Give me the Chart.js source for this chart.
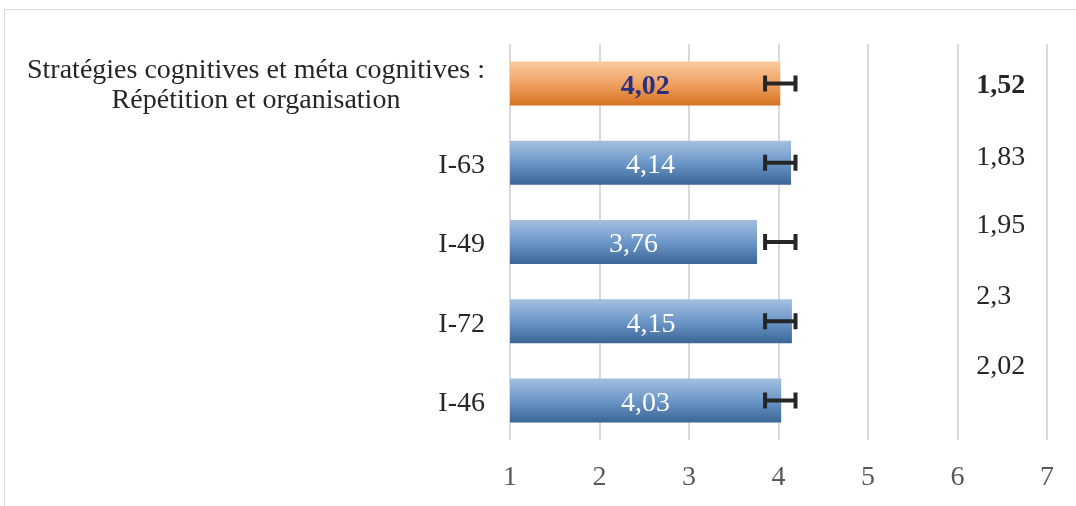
<!DOCTYPE html>
<html>
<head>
<meta charset="utf-8">
<script src="https://cdn.jsdelivr.net/npm/chart.js@4"></script>
<style>
  html, body { margin: 0; padding: 0; background: #fff; }
  #wrap { width: 1076px; height: 506px; position: relative; }
</style>
</head>
<body>
<div id="wrap"><canvas id="chart"></canvas></div>
<script>
// categories from top to bottom
const categories = [
  ["Stratégies cognitives et méta cognitives :", "Répétition et organisation"],
  "I-63", "I-49", "I-72", "I-46"
];
const means = [4.02, 4.14, 3.76, 4.15, 4.03];
const errLow = [3.85, 3.85, 3.85, 3.85, 3.85];
const errHigh = [4.19, 4.19, 4.19, 4.19, 4.19];
const sdValues = [1.52, 1.83, 1.95, 2.3, 2.02];
const xTicks = [1, 2, 3, 4, 5, 6, 7];

const serif = '"Liberation Serif", "Times New Roman", serif';
const fmt = v => String(v).replace('.', ',');
const barPct = 0.555;
const textShift = 3; // times glyphs sit a bit low in the original

function barGradient(ctx) {
  const chart = ctx.chart;
  const y = chart.scales.y;
  const fallback = ctx.dataIndex === 0 ? '#f0a263' : '#6c97c9';
  if (!y || ctx.dataIndex === undefined) return fallback;
  const cy = y.getPixelForValue(ctx.dataIndex);
  const half = (y.height / categories.length) * barPct / 2;
  if (!isFinite(cy) || !isFinite(half) || half <= 0) return fallback;
  const g = chart.ctx.createLinearGradient(0, cy - half, 0, cy + half);
  if (ctx.dataIndex === 0) {
    g.addColorStop(0, '#f8ca9f');
    g.addColorStop(0.5, '#f0a263');
    g.addColorStop(1, '#d5711f');
  } else {
    g.addColorStop(0, '#a5c0df');
    g.addColorStop(0.5, '#6c97c9');
    g.addColorStop(1, '#3a6695');
  }
  return g;
}

const extras = {
  id: 'extras',
  beforeDraw(chart) {
    const c = chart.ctx;
    c.save();
    c.strokeStyle = '#d9d9d9';
    c.lineWidth = 1;
    c.strokeRect(4.5, 9.5, 1200, 700);
    c.restore();
  },
  afterDatasetsDraw(chart) {
    const c = chart.ctx;
    const x = chart.scales.x, y = chart.scales.y;
    c.save();
    // y labels
    c.fillStyle = '#262626';
    c.font = '28px ' + serif;
    c.textBaseline = 'middle';
    const rightX = 485;
    categories.forEach((lab, i) => {
      const cy = y.getPixelForValue(i) + textShift;
      if (Array.isArray(lab)) {
        const w = Math.max(...lab.map(l => c.measureText(l).width));
        c.textAlign = 'center';
        const lh = 30;
        lab.forEach((l, k) => {
          c.fillText(l, rightX - w / 2, cy - 1 + (k - (lab.length - 1) / 2) * lh);
        });
      } else {
        c.textAlign = 'right';
        c.fillText(lab, rightX, cy);
      }
    });
    // value labels inside bars
    c.textAlign = 'center';
    means.forEach((v, i) => {
      const cy = y.getPixelForValue(i) + textShift;
      const cx = (x.getPixelForValue(1) + x.getPixelForValue(v)) / 2;
      if (i === 0) {
        c.font = 'bold 28px ' + serif;
        c.fillStyle = '#2b2f80';
      } else {
        c.font = '28px ' + serif;
        c.fillStyle = '#ffffff';
      }
      c.fillText(fmt(v), cx, cy);
    });
    // error bars
    c.strokeStyle = '#262626';
    c.lineWidth = 4;
    c.lineCap = 'butt';
    errLow.forEach((lo, i) => {
      const cy = y.getPixelForValue(i);
      const x0 = x.getPixelForValue(lo), x1 = x.getPixelForValue(errHigh[i]);
      c.beginPath();
      c.moveTo(x0, cy); c.lineTo(x1, cy);
      c.moveTo(x0, cy - 8); c.lineTo(x0, cy + 8);
      c.moveTo(x1, cy - 8); c.lineTo(x1, cy + 8);
      c.stroke();
    });
    // sd column
    const opts = chart.options.plugins.extras;
    c.textAlign = 'left';
    c.fillStyle = '#262626';
    sdValues.forEach((s, i) => {
      c.font = (i === 0 ? 'bold ' : '') + '28px ' + serif;
      c.fillText(fmt(s), x.getPixelForValue(opts.sdX), y.getPixelForValue(opts.sdRow[i]) + 2);
    });
    c.restore();
  }
};

new Chart(document.getElementById('chart'), {
  type: 'bar',
  data: {
    labels: categories.map(l => Array.isArray(l) ? l.join(' ') : l),
    datasets: [{
      data: means.map(v => [1, v]),
      backgroundColor: barGradient,
      borderWidth: 0,
      barPercentage: barPct,
      categoryPercentage: 1
    }]
  },
  options: {
    indexAxis: 'y',
    responsive: true,
    maintainAspectRatio: false,
    animation: false,
    layout: { padding: { left: 0, right: 29, top: 44, bottom: 0 } },
    plugins: {
      legend: { display: false },
      tooltip: { enabled: false },
      extras: { sdX: 6.21, sdRow: [0, 0.91, 1.77, 2.66, 3.55] }
    },
    scales: {
      x: {
        min: 1, max: 7,
        afterBuildTicks: s => { s.ticks = xTicks.map(v => ({ value: v })); },
        afterFit: s => { s.height = 66; },
        grid: { color: '#d9d9d9', lineWidth: 2, drawTicks: false },
        border: { display: false },
        ticks: {
          color: '#595959',
          font: { family: serif, size: 28 },
          padding: 21
        }
      },
      y: {
        afterFit: s => { s.width = 510; },
        grid: { display: false },
        border: { display: false },
        ticks: { display: false }
      }
    }
  },
  plugins: [extras]
});
</script>
</body>
</html>
